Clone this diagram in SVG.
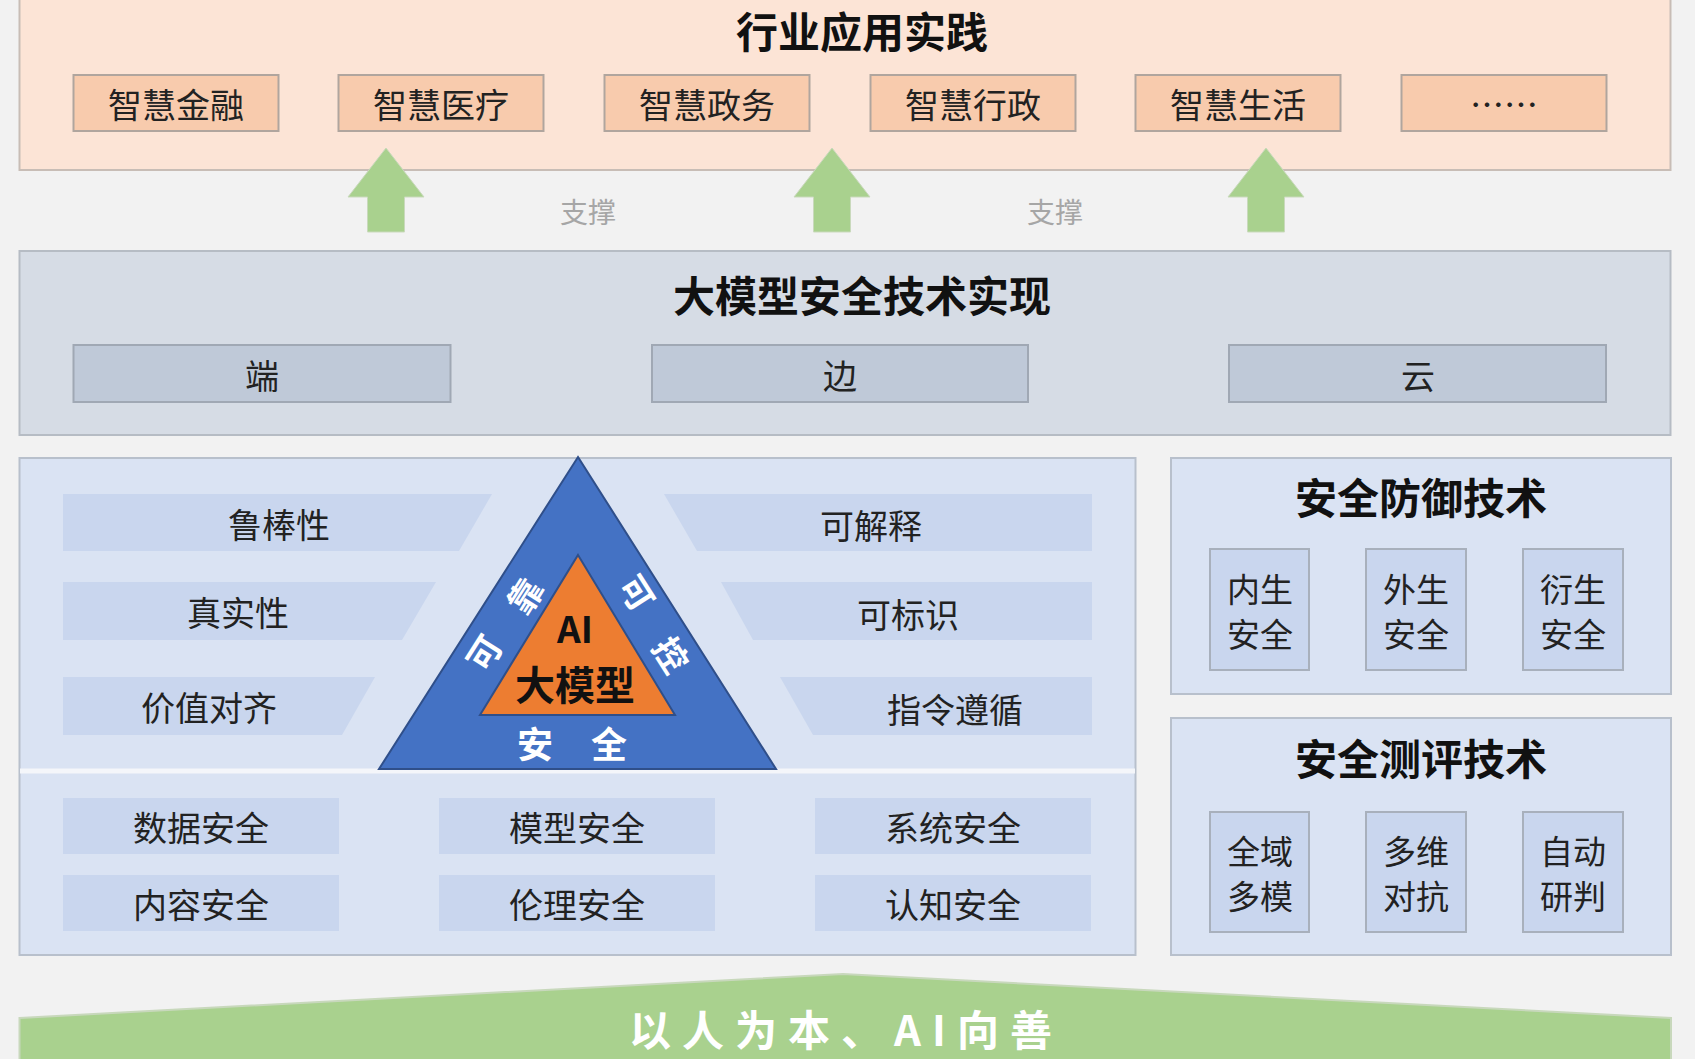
<svg xmlns="http://www.w3.org/2000/svg" width="1695" height="1059" viewBox="0 0 1695 1059">
<defs><style>
text{font-family:"Noto Sans CJK SC","Liberation Sans",sans-serif;text-anchor:middle;dominant-baseline:central}
.t{font-size:42px;font-weight:bold;fill:#111}
.l{font-size:34px;fill:#222}
.s{font-size:33px;fill:#222}
.p1{fill:#fce4d6;stroke:#c8bdb6;stroke-width:2}
.b1{fill:#f8cbad;stroke:#b0a59e;stroke-width:2}
.p2{fill:#d6dce5;stroke:#b6bcc4;stroke-width:2}
.b2{fill:#bfc9d8;stroke:#a0a8b4;stroke-width:2}
.p3{fill:#dae3f3;stroke:#b8c0cc;stroke-width:2}
.bar{fill:#c9d6ee}
.sb{fill:#c9d6ee;stroke:#a8b0bc;stroke-width:2}
.arr{fill:#a9d18e;stroke:#c9d9bc;stroke-width:1}
.w{fill:#fff;font-weight:bold}
</style></defs>
<rect width="1695" height="1059" fill="#f2f2f2"/>
<g id="industry">
<rect class="p1" x="19.5" y="-2" width="1651" height="172"/>
<text class="t" x="862" y="29">行业应用实践</text>
<rect class="b1" x="73.5" y="75" width="205" height="56"/><text class="l" x="176" y="103">智慧金融</text>
<rect class="b1" x="338.5" y="75" width="205" height="56"/><text class="l" x="441" y="103">智慧医疗</text>
<rect class="b1" x="604.5" y="75" width="205" height="56"/><text class="l" x="707" y="103">智慧政务</text>
<rect class="b1" x="870.5" y="75" width="205" height="56"/><text class="l" x="973" y="103">智慧行政</text>
<rect class="b1" x="1135.5" y="75" width="205" height="56"/><text class="l" x="1238" y="103">智慧生活</text>
<rect class="b1" x="1401.5" y="75" width="205" height="56"/><text class="l" x="1504" y="103">……</text>
</g>
<g id="connectors">
<path class="arr" d="M386 148 L424 197 L404.5 197 L404.5 232 L367.5 232 L367.5 197 L348 197 Z"/>
<path class="arr" d="M832 148 L870 197 L850.5 197 L850.5 232 L813.5 232 L813.5 197 L794 197 Z"/>
<path class="arr" d="M1266 148 L1304 197 L1284.5 197 L1284.5 232 L1247.5 232 L1247.5 197 L1228 197 Z"/>
<text x="588" y="211" font-size="28" fill="#a6a6a6">支撑</text>
<text x="1055" y="211" font-size="28" fill="#a6a6a6">支撑</text>
</g>
<g id="tech">
<rect class="p2" x="19.5" y="251" width="1651" height="184"/>
<text class="t" x="862" y="293">大模型安全技术实现</text>
<rect class="b2" x="73.5" y="345" width="377" height="57"/><text class="l" x="262" y="374">端</text>
<rect class="b2" x="652" y="345" width="376" height="57"/><text class="l" x="840" y="374">边</text>
<rect class="b2" x="1229" y="345" width="377" height="57"/><text class="l" x="1418" y="374">云</text>
</g>
<g id="core">
<rect class="p3" x="19.5" y="458" width="1116" height="497"/>
<line x1="20" y1="771" x2="1135" y2="771" stroke="#f4f6fa" stroke-width="5"/>
<polygon class="bar" points="63,494 492,494 459,551 63,551"/><text class="l" x="279" y="523">鲁棒性</text>
<polygon class="bar" points="63,582 436,582 402,640 63,640"/><text class="l" x="238" y="611">真实性</text>
<polygon class="bar" points="63,677 375,677 342,735 63,735"/><text class="l" x="209" y="706">价值对齐</text>
<polygon class="bar" points="664,494 1092,494 1092,551 697,551"/><text class="l" x="871" y="524">可解释</text>
<polygon class="bar" points="721,582 1092,582 1092,640 753,640"/><text class="l" x="908" y="613">可标识</text>
<polygon class="bar" points="780,677 1092,677 1092,735 813,735"/><text class="l" x="955" y="708">指令遵循</text>
<polygon points="578,457 776,769 379,769" fill="#4472c4" stroke="#2f4f8a" stroke-width="2"/>
<polygon points="578,555 675,715 480,715" fill="#ed7d31" stroke="#2f4f8a" stroke-width="2"/>
<text x="575" y="627" font-size="37" font-weight="bold" fill="#111">AI</text>
<text x="575" y="683" font-size="40" font-weight="bold" fill="#111">大模型</text>
<text class="w" x="535" y="742" font-size="36">安</text>
<text class="w" x="609" y="742" font-size="36">全</text>
<text class="w" font-size="34" transform="translate(483,652) rotate(-57.5)">可</text>
<text class="w" font-size="34" transform="translate(524,595) rotate(-57.5)">靠</text>
<text class="w" font-size="34" transform="translate(638,592) rotate(57.5)">可</text>
<text class="w" font-size="34" transform="translate(672,654) rotate(57.5)">控</text>
<rect class="bar" x="63" y="798" width="276" height="56"/><text class="l" x="201" y="826">数据安全</text>
<rect class="bar" x="439" y="798" width="276" height="56"/><text class="l" x="577" y="826">模型安全</text>
<rect class="bar" x="815" y="798" width="276" height="56"/><text class="l" x="953" y="826">系统安全</text>
<rect class="bar" x="63" y="875" width="276" height="56"/><text class="l" x="201" y="903">内容安全</text>
<rect class="bar" x="439" y="875" width="276" height="56"/><text class="l" x="577" y="903">伦理安全</text>
<rect class="bar" x="815" y="875" width="276" height="56"/><text class="l" x="953" y="903">认知安全</text>
</g>
<g id="defense">
<rect class="p3" x="1171" y="458" width="500" height="236"/>
<text class="t" x="1421" y="495">安全防御技术</text>
<rect class="sb" x="1210" y="549" width="99" height="121"/><text class="s" x="1260" y="588">内生</text><text class="s" x="1260" y="633">安全</text>
<rect class="sb" x="1366" y="549" width="100" height="121"/><text class="s" x="1416" y="588">外生</text><text class="s" x="1416" y="633">安全</text>
<rect class="sb" x="1523" y="549" width="100" height="121"/><text class="s" x="1573" y="588">衍生</text><text class="s" x="1573" y="633">安全</text>
</g>
<g id="evaluation">
<rect class="p3" x="1171" y="718" width="500" height="237"/>
<text class="t" x="1421" y="756">安全测评技术</text>
<rect class="sb" x="1210" y="812" width="99" height="120"/><text class="s" x="1260" y="850">全域</text><text class="s" x="1260" y="895">多模</text>
<rect class="sb" x="1366" y="812" width="100" height="120"/><text class="s" x="1416" y="850">多维</text><text class="s" x="1416" y="895">对抗</text>
<rect class="sb" x="1523" y="812" width="100" height="120"/><text class="s" x="1573" y="850">自动</text><text class="s" x="1573" y="895">研判</text>
</g>
<g id="base">
<polygon points="19.5,1018 843,974 1671,1018 1671,1060 19.5,1060" fill="#a9d18e" stroke="#c8d8bc" stroke-width="2"/>
<text class="w" x="846" y="1027" font-size="42" letter-spacing="11">以人为本、AI向善</text>
</g>
</svg>
